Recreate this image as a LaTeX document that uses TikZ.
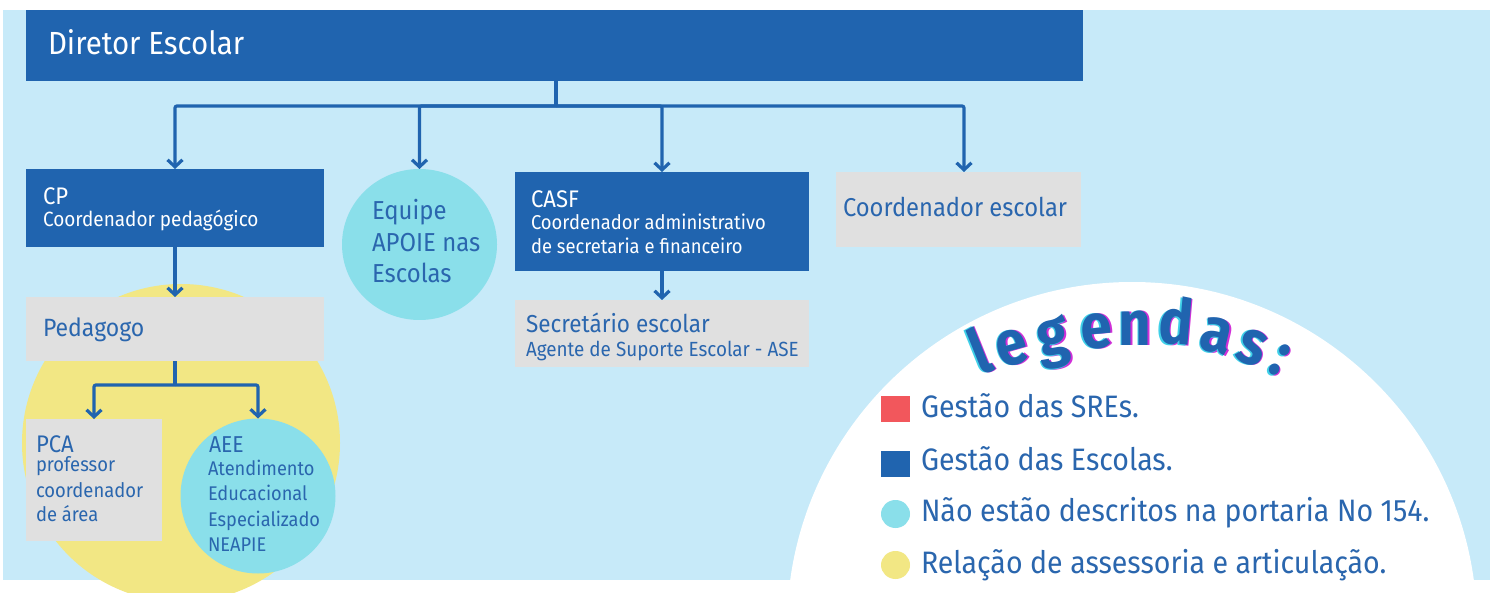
\documentclass[tikz,border=0pt]{standalone}
\usepackage{fontspec}
\setmainfont{Fira Sans}[FakeStretch=0.92]
\newfontfamily\legfont{Fira Sans}[FakeStretch=0.9]
\usetikzlibrary{arrows.meta,calc,shapes.geometric}
\definecolor{bgblue}{HTML}{C7EAF9}
\definecolor{dblue}{HTML}{2064AF}
\definecolor{tblue}{HTML}{2A66AE}
\definecolor{gbox}{HTML}{E0E0E0}
\definecolor{cyanc}{HTML}{8ADFEA}
\definecolor{yellc}{HTML}{F2E784}
\definecolor{redc}{HTML}{F2575C}
\definecolor{magsh}{HTML}{D02FD8}
\definecolor{cysh}{HTML}{3FD0E8}
\newcommand{\fs}[1]{\fontsize{#1}{#1}\selectfont}
\begin{document}
\begin{tikzpicture}[x=1pt,y=-1pt,
  box/.style={rectangle,draw=none,inner sep=0pt,outer sep=0pt,anchor=north west},
  bluebox/.style={box,fill=dblue},
  graybox/.style={box,fill=gbox},
  oval/.style={ellipse,fill=cyanc,draw=none,inner sep=0pt,outer sep=0pt},
  txt/.style={inner sep=0pt,outer sep=0pt,anchor=base west},
  wtxt/.style={txt,text=white},
  btxt/.style={txt,text=tblue},
  conn/.style={draw=dblue,line width=3.2pt,rounded corners=2pt},
  arr/.style={conn,-{Straight Barb[length=7pt,width=15pt,line width=3.2pt]}},
  lg/.style={inner sep=0pt,outer sep=0pt,anchor=base,font=\legfont\bfseries\fontsize{63}{63}\selectfont}
]
\useasboundingbox (0,0) rectangle (1498,593);
% backgrounds
\fill[bgblue] (3,10) rectangle (1490,580);
\fill[white] (1132,627) circle (345pt);
\fill[white] (0,580) rectangle (1498,593);
\fill[yellc] (181,443) circle (159pt);

% boxes
\node[bluebox,minimum width=1057pt,minimum height=71pt] (dir) at (26,10) {};
\node[wtxt,font=\fs{32}] (tdir) at (48,55) {Diretor Escolar};

\node[bluebox,minimum width=298pt,minimum height=78pt] (cp) at (26,169) {};
\node[wtxt,font=\fs{24}] (tcp) at (43,205) {CP};
\node[wtxt,font=\fs{20.6}] (tcp2) at (43,227) {Coordenador pedagógico};

\node[oval,minimum width=155pt,minimum height=151pt] (eq) at (419.5,244.5) {};
\node[btxt,font=\fs{26}] (teq1) at (372,220) {Equipe};
\node[btxt,font=\fs{26}] (teq2) at (372,252) {APOIE nas};
\node[btxt,font=\fs{26}] (teq3) at (372,283) {Escolas};

\node[bluebox,minimum width=294pt,minimum height=99pt] (casf) at (515,172) {};
\node[wtxt,font=\fs{24}] (tcasf) at (531,208) {CASF};
\node[wtxt,font=\fs{20}] (tcasf2) at (531,230) {Coordenador administrativo};
\node[wtxt,font=\fs{20}] (tcasf3) at (531,254) {de secretaria e financeiro};

\node[graybox,minimum width=245pt,minimum height=75pt] (ce) at (836,172) {};
\node[btxt,font=\fs{25.8}] (tce) at (843,217) {Coordenador escolar};

\node[graybox,minimum width=294pt,minimum height=67pt] (sec) at (515,300) {};
\node[btxt,font=\fs{24.5}] (tsec) at (526,332) {Secretário escolar};
\node[btxt,font=\fs{20.5}] (tsec2) at (526,356) {Agente de Suporte Escolar - ASE};

\node[graybox,minimum width=298pt,minimum height=64pt] (ped) at (26,297) {};
\node[btxt,font=\fs{25}] (tped) at (43,336) {Pedagogo};

\node[graybox,minimum width=136pt,minimum height=122pt] (pca) at (26,419) {};
\node[btxt,font=\fs{24}] (tpca) at (36,452) {PCA};
\node[btxt,font=\fs{20}] (tpca1) at (36,471) {professor};
\node[btxt,font=\fs{20}] (tpca2) at (36,497) {coordenador};
\node[btxt,font=\fs{20}] (tpca3) at (36,521) {de área};

\node[oval,minimum width=155pt,minimum height=155pt] (aee) at (258,496) {};
\node[btxt,font=\fs{23}] (taee) at (209,452) {AEE};
\node[btxt,font=\fs{19.8}] (taee1) at (208,475) {Atendimento};
\node[btxt,font=\fs{19.8}] (taee2) at (208,500) {Educacional};
\node[btxt,font=\fs{19.8}] (taee3) at (208,526) {Especializado};
\node[btxt,font=\fs{19.8}] (taee4) at (208,551) {NEAPIE};

% connectors
\coordinate (hub) at (556,106);
\draw[conn] (dir.south -| hub) -- (hub);
\draw[arr] (hub) -| (cp.north);
\draw[arr] (hub) -| (eq.north);
\draw[arr] (hub) -| (casf.north);
\draw[arr] (hub) -| ([xshift=5.5pt]ce.north);
\draw[arr] (casf.south) -- (sec.north);
\draw[arr] (cp.south) -- (ped.north);
\coordinate (pb) at (175,385);
\draw[conn] (ped.south) -- (pb);
\draw[arr] (pb) -| (pca.north);
\draw[arr] (pb) -| (aee.north);

% legend title
\foreach \ch/\x/\y/\r [count=\i] in {l/988/372/22,e/1017/364/16,g/1056/355/10,e/1098/348/5,n/1135/345/0,d/1174/344/-5,a/1213/352/-13,s/1246/363/-21,:/1272/374/-28}{
  \node[lg,text=magsh,rotate=\r] (lgm\i) at (\x+1.6,\y+0.6) {\ch};
  \node[lg,text=cysh,rotate=\r] (lgc\i) at (\x-1.6,\y+0.6) {\ch};
  \node[lg,text=dblue,rotate=\r] (lgb\i) at (\x,\y) {\ch};
}

% legend items
\node[box,fill=redc,minimum width=29pt,minimum height=26pt] (k1) at (881,396) {};
\node[box,fill=dblue,minimum width=29pt,minimum height=26pt] (k2) at (881,451) {};
\node[oval,minimum width=29pt,minimum height=28pt] (k3) at (895.5,514) {};
\node[ellipse,fill=yellc,inner sep=0pt,minimum width=29pt,minimum height=28pt] (k4) at (895.5,565) {};
\node[btxt,font=\fs{31}] (l1) at (921,417) {Gestão das SREs.};
\node[btxt,font=\fs{31}] (l2) at (921,470) {Gestão das Escolas.};
\node[btxt,font=\fs{31}] (l3) at (921,521) {Não estão descritos na portaria No 154.};
\node[btxt,font=\fs{31}] (l4) at (921,573) {Relação de assessoria e articulação.};
\end{tikzpicture}
\end{document}
